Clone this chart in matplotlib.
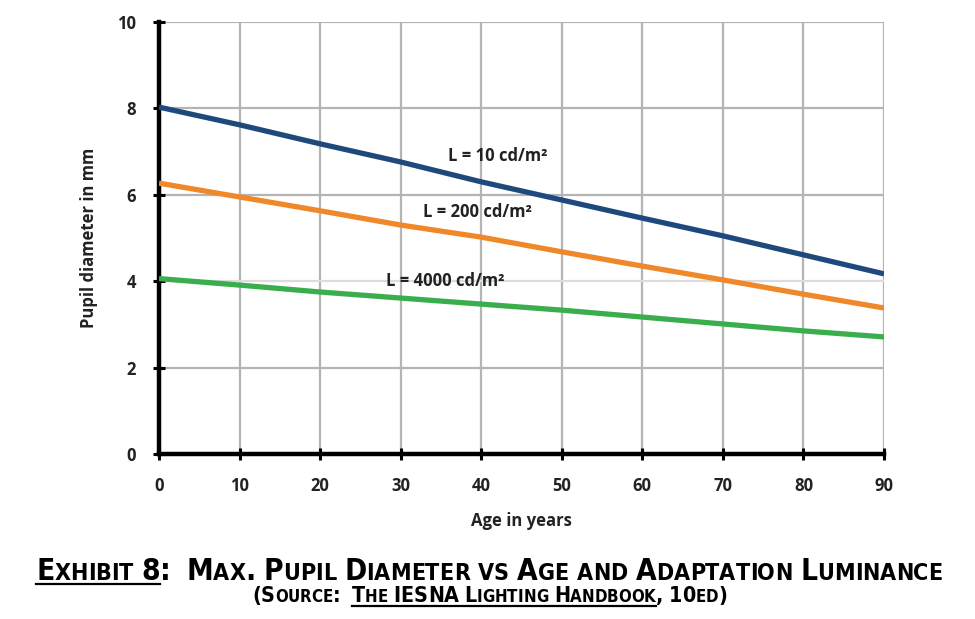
import numpy as np
import matplotlib
matplotlib.use("Agg")
import matplotlib.pyplot as plt
from matplotlib import font_manager

ages = [0, 10, 20, 30, 40, 50, 60, 70, 80, 90]
pupil_10 = [8.03, 7.62, 7.18, 6.76, 6.30, 5.88, 5.46, 5.05, 4.61, 4.17]
pupil_200 = [6.27, 5.95, 5.63, 5.30, 5.02, 4.68, 4.35, 4.03, 3.70, 3.38]
pupil_4000 = [4.06, 3.91, 3.75, 3.61, 3.47, 3.33, 3.17, 3.01, 2.85, 2.71]
labels = ["L = 10 cd/m²", "L = 200 cd/m²", "L = 4000 cd/m²"]
label_pos = [(42, 6.9), (39.5, 5.6), (35.5, 4.0)]
xticks = list(range(0, 91, 10))
yticks = [0, 2, 4, 6, 8, 10]

names = {f.name for f in font_manager.fontManager.ttflist}
axfont = "Open Sans" if "Open Sans" in names else "DejaVu Sans"

# a narrow bold face for the caption if one is around
cap_fp = None
for f in font_manager.fontManager.ttflist:
    nm = f.name.lower()
    narrow = ("narrow" in nm or "condensed" in nm or
              f.stretch in ("condensed", "semi-condensed", "extra-condensed"))
    w = f.weight if isinstance(f.weight, int) else 700 if f.weight == "bold" else 400
    if narrow and w >= 600 and f.style == "normal":
        cap_fp = font_manager.FontProperties(fname=f.fname)
        break
if cap_fp is None:
    cap_fp = font_manager.FontProperties(family="Roboto" if "Roboto" in names else "DejaVu Sans",
                                         weight="bold")

fig = plt.figure(figsize=(9.75, 6.19), dpi=100)
ax = fig.add_axes([159 / 975, 1 - 454 / 619, 725 / 975, 432 / 619])

for x in xticks[1:]:
    ax.axvline(x, color="#b4b4b4", lw=1.6, zorder=0)
for y in yticks[1:]:
    c = "#dcdcdc" if y == 4 else "#b4b4b4"
    ax.axhline(y, color=c, lw=1.6, zorder=0)

ax.plot(ages, pupil_10, color="#1f497d", lw=3.8, solid_capstyle="butt", zorder=3)
ax.plot(ages, pupil_200, color="#f0882a", lw=3.8, solid_capstyle="butt", zorder=3)
ax.plot(ages, pupil_4000, color="#3aae4c", lw=3.8, solid_capstyle="butt", zorder=3)

for lab, (x, y) in zip(labels, label_pos):
    ax.text(x, y, lab, ha="center", va="center", fontsize=12,
            fontweight="bold", family=axfont, color="#222222", zorder=4)

ax.set_xlim(0, 90)
ax.set_ylim(0, 10)
ax.set_xticks(xticks)
ax.set_yticks(yticks)
for s in ["top", "right"]:
    ax.spines[s].set_visible(False)
for s in ["left", "bottom"]:
    ax.spines[s].set_linewidth(3.2)
    ax.spines[s].set_capstyle("projecting")
ax.tick_params(direction="inout", length=9, width=2.2, color="black",
               labelsize=12, pad=4)
ax.tick_params(axis="x", pad=12)
ax.tick_params(axis="y", pad=12)
for t in ax.get_xticklabels() + ax.get_yticklabels():
    t.set_fontweight("bold")
    t.set_family(axfont)
    t.set_color("#222222")
ax.set_xlabel("Age in years", fontsize=12, fontweight="bold", family=axfont,
              color="#222222", labelpad=12)
ax.set_ylabel("Pupil diameter in mm", fontsize=12, fontweight="bold",
              family=axfont, color="#222222", labelpad=14)


# small caps caption, drawn piece by piece
def pieces_for(text, small):
    out = []
    for ch in text:
        if ch.islower():
            out.append((ch.upper(), small))
        else:
            out.append((ch, 1.0))
    return out


def draw_line(segments, y, size, target_w):
    renderer = fig.canvas.get_renderer()

    def build(sz):
        arts = []
        for txt, ul in segments:
            for ch, rel in pieces_for(txt, 0.78):
                t = fig.text(0, y, ch, fontproperties=cap_fp, va="baseline", ha="left")
                t.set_fontsize(sz * rel)
                arts.append((t, ul))
        return arts

    def widths(arts):
        ws = []
        for t, ul in arts:
            if t.get_text() == " ":
                t.set_text("I")
                w = t.get_window_extent(renderer).width * 0.8
                t.set_text(" ")
            else:
                w = t.get_window_extent(renderer).width
            ws.append(w)
        return ws

    arts = build(size)
    total = sum(widths(arts))
    for t, ul in arts:
        t.remove()
    size = size * target_w / total
    arts = build(size)
    ws = widths(arts)
    total = sum(ws)
    W = fig.bbox.width
    x = (W - total) / 2 + 2
    ul_start = None
    for (t, ul), w in zip(arts, ws):
        t.set_x(x / W)
        if ul and ul_start is None:
            ul_start = x
        if not ul and ul_start is not None:
            fig.add_artist(plt.Line2D([ul_start / W, x / W], [y - 0.006, y - 0.006],
                                      color="black", lw=1.6))
            ul_start = None
        x += w
    if ul_start is not None:
        fig.add_artist(plt.Line2D([ul_start / W, x / W], [y - 0.006, y - 0.006],
                                  color="black", lw=1.6))


fig.canvas.draw()
draw_line([("Exhibit 8", True),
           (":  Max. Pupil Diameter vs Age and Adaptation Luminance", False)],
          1 - 580 / 619, 20, 903)
draw_line([("(Source:  ", False), ("The IESNA Lighting Handbook", True),
           (", 10ed)", False)],
          1 - 602 / 619, 13, 473)

fig.savefig("out.png", dpi=100)
